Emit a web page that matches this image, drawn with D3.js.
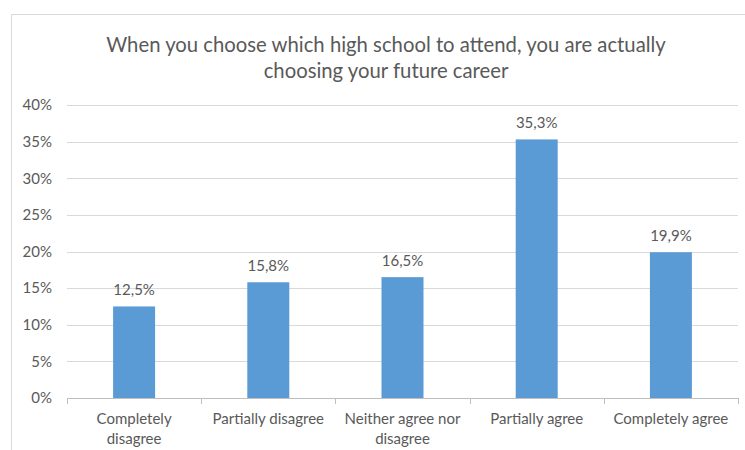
<!DOCTYPE html>
<html>
<head>
<meta charset="utf-8">
<script src="https://cdn.jsdelivr.net/npm/d3@7"></script>
<style>
  html, body { margin: 0; padding: 0; background: #fff; }
  svg { display: block; font-family: Lato, "Open Sans", sans-serif; }
</style>
</head>
<body>
<svg id="chart" width="745" height="450"></svg>
<script>
// Survey answers and their shares (percent)
const categories = ["Completely disagree", "Partially disagree", "Neither agree nor disagree", "Partially agree", "Completely agree"];
const values = [12.5, 15.8, 16.5, 35.3, 19.9];
const yTicks = [0, 5, 10, 15, 20, 25, 30, 35, 40];
const titleLines = ["When you choose which high school to attend, you are actually", "choosing your future career"];

const svg = d3.select("#chart");
const textColor = "#595959";
const gridColor = "#d9d9d9";
const barColor = "#5b9bd5";
const labelSize = 15;

// Chart frame
svg.append("path")
  .attr("d", "M11.5,450 V14.5 H745")
  .attr("fill", "none")
  .attr("stroke", "#d9d9d9")
  .attr("stroke-width", 1);

const margin = { left: 67, right: 7 };
const plotW = 745 - margin.left - margin.right;
const plotBottom = 398;
const plotTop = 105;

const x = d3.scaleBand().domain(categories).range([margin.left, margin.left + plotW]).paddingInner(0).paddingOuter(0);
const y = d3.scaleLinear().domain([0, 40]).range([plotBottom, plotTop]);

// Title
svg.append("text")
  .attr("y", 52)
  .attr("text-anchor", "middle")
  .attr("fill", textColor)
  .attr("font-size", 20.3)
  .selectAll("tspan").data(titleLines).join("tspan")
  .attr("x", 386)
  .attr("dy", (d, i) => i === 0 ? 0 : 26)
  .text(d => d);

// Horizontal gridlines
svg.append("g").selectAll("line").data(yTicks.filter(t => t > 0)).join("line")
  .attr("x1", margin.left).attr("x2", margin.left + plotW)
  .attr("y1", d => Math.round(y(d)) + 0.5).attr("y2", d => Math.round(y(d)) + 0.5)
  .attr("stroke", gridColor).attr("stroke-width", 1);

// Y axis labels
const yAxis = d3.axisLeft(y).tickValues(yTicks).tickFormat(d => d + "%").tickSize(0).tickPadding(15);
const gy = svg.append("g").attr("transform", `translate(${margin.left},0)`).call(yAxis);
gy.select(".domain").remove();
gy.selectAll("text").attr("fill", textColor).attr("font-size", labelSize).attr("font-family", "Lato, 'Open Sans', sans-serif");

// Bars
const barW = 42;
svg.append("g").selectAll("rect").data(values).join("rect")
  .attr("x", (d, i) => x(categories[i]) + x.bandwidth() / 2 - barW / 2)
  .attr("width", barW)
  .attr("y", d => y(d))
  .attr("height", d => y(0) - y(d))
  .attr("fill", barColor);

// Value labels
svg.append("g").selectAll("text").data(values).join("text")
  .attr("x", (d, i) => x(categories[i]) + x.bandwidth() / 2)
  .attr("y", d => y(d) - 11)
  .attr("text-anchor", "middle")
  .attr("fill", textColor)
  .attr("font-size", labelSize)
  .text(d => d.toFixed(1).replace(".", ",") + "%");

// X axis line and ticks between categories
const gx = svg.append("g").attr("transform", `translate(0,${plotBottom})`);
gx.append("line")
  .attr("x1", margin.left).attr("x2", margin.left + plotW)
  .attr("y1", 0.5).attr("y2", 0.5)
  .attr("stroke", "#bfbfbf");
const boundaries = categories.map(c => x(c)).concat([x(categories[categories.length - 1]) + x.bandwidth()]);
gx.selectAll("line.tick").data(boundaries).join("line")
  .attr("class", "tick")
  .attr("x1", d => Math.round(d) + 0.5).attr("x2", d => Math.round(d) + 0.5)
  .attr("y1", 0).attr("y2", 6)
  .attr("stroke", "#bfbfbf");

// Category labels, wrapped to the band width
const maxLabelW = 126;
categories.forEach(c => {
  const t = svg.append("text")
    .attr("text-anchor", "middle")
    .attr("fill", textColor)
    .attr("font-size", labelSize);
  const cx = x(c) + x.bandwidth() / 2;
  const words = c.split(" ");
  const lines = [];
  let line = [];
  const probe = t.append("tspan");
  words.forEach(w => {
    const trial = line.concat([w]).join(" ");
    probe.text(trial);
    if (probe.node().getComputedTextLength() > maxLabelW && line.length) {
      lines.push(line.join(" "));
      line = [w];
    } else {
      line.push(w);
    }
  });
  lines.push(line.join(" "));
  probe.remove();
  lines.forEach((l, i) => {
    t.append("tspan").attr("x", cx).attr("y", 424 + i * 20).text(l);
  });
});
</script>
</body>
</html>
